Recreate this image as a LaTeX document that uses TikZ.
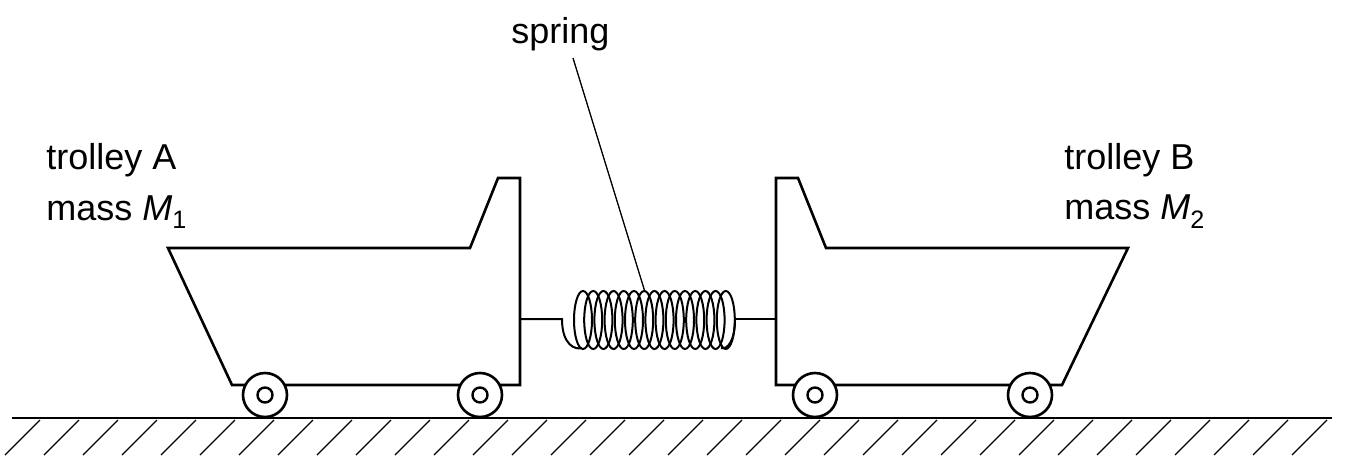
\documentclass[tikz,border=0pt]{standalone}
\usepackage{fontspec}
\setmainfont{Liberation Sans}
\begin{document}
\begin{tikzpicture}[x=1pt,y=-1pt,line width=2.6pt,line join=miter,
  lbl/.style={font=\fontsize{36}{42}\selectfont,anchor=west,inner sep=0},
  wheel/.style={circle,draw,fill=white,line width=2.6pt,minimum size=44pt,inner sep=0},
  hub/.style={circle,draw,line width=2.4pt,minimum size=15pt,inner sep=0}]
\useasboundingbox (0,0) rectangle (1345,466);
% ground
\draw (12,418) -- (1332,418);
\foreach \i in {0,...,33} \draw[line width=1.3pt] ({40+39*\i},420) -- ({5+39*\i},455);
% trolley A
\draw (168,248) -- (470,248) -- (498,178) -- (520,178) -- (520,385) -- (232,385) -- cycle;
\node[wheel] (wa1) at (265,395) {}; \node[hub] at (wa1) {};
\node[wheel] (wa2) at (480,395) {}; \node[hub] at (wa2) {};
% trolley B
\draw (776,178) -- (798,178) -- (826,248) -- (1128,248) -- (1062,385) -- (776,385) -- cycle;
\node[wheel] (wb1) at (815,395) {}; \node[hub] at (wb1) {};
\node[wheel] (wb2) at (1030,395) {}; \node[hub] at (wb2) {};
% spring
\draw[line width=2pt] (520,319) -- (562,319) .. controls (562,345) and (575,350) .. (582,348);
\draw[line width=2pt] (735,319) -- (776,319);
\draw[line width=2pt] (735,319) .. controls (735,340) and (728,350) .. (721,348);
\foreach \i in {0,...,14} \draw[line width=2pt] ({583+10.2*\i},320) ellipse (9pt and 29pt);
% labels
\node[lbl] (sp) at (510,34) {spring};
\coordinate (sp1) at (573,58);
\draw[line width=1.3pt] (sp1) -- (645,292);
\node[lbl] (ta) at (45,160) {trolley A};
\node[lbl] (ma) at (45,212) {mass \textit{M}\textsubscript{1}};
\node[lbl] (tb) at (1063,160) {trolley B};
\node[lbl] (mb) at (1063,212) {mass \textit{M}\textsubscript{2}};
\end{tikzpicture}
\end{document}
